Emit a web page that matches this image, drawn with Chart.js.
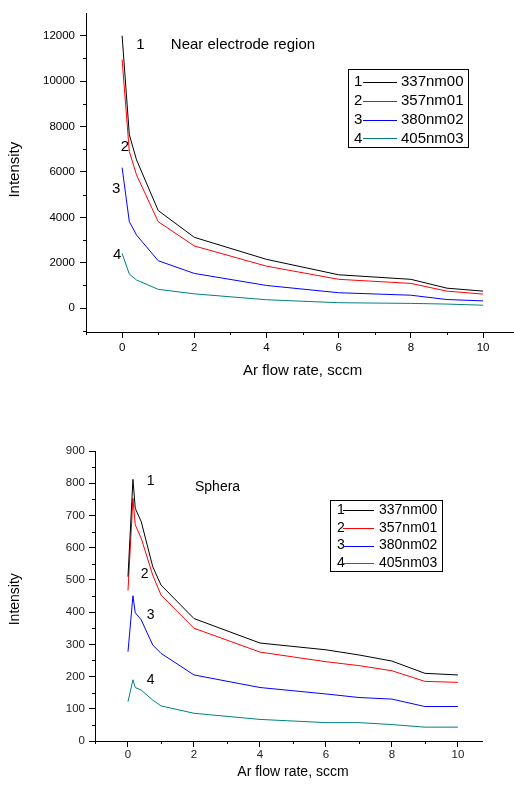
<!DOCTYPE html>
<html>
<head>
<meta charset="utf-8">
<script src="https://cdn.jsdelivr.net/npm/chart.js@4.4.0/dist/chart.umd.min.js"></script>
<style>
  body { margin: 0; background: #fff; }
  canvas { display: block; }
</style>
</head>
<body>
<canvas id="topChart" width="514" height="393"></canvas>
<canvas id="botChart" width="514" height="393"></canvas>
<script>
// ---- data: upper plot (Near electrode region)
const xTop = [0, 0.2, 0.4, 1, 2, 4, 6, 8, 9, 10];
const top337 = [12000, 7640, 6530, 4300, 3120, 2150, 1470, 1270, 880, 750];
const top357 = [10950, 6900, 5870, 3810, 2740, 1850, 1270, 1090, 750, 620];
const top380 = [6190, 3810, 3220, 2090, 1530, 1000, 680, 570, 380, 320];
const top405 = [2410, 1500, 1240, 830, 630, 370, 240, 210, 180, 130];
const topYTicks = [0, 2000, 4000, 6000, 8000, 10000, 12000];

// ---- data: lower plot (Sphera)
const xBot = [0, 0.15, 0.22, 0.4, 0.75, 1, 2, 4, 6, 7, 8, 9, 10];
const bot337 = [510, 812, 722, 681, 541, 484, 380, 304, 283, 267, 248, 210, 205];
const bot357 = [467, 753, 671, 629, 515, 453, 350, 276, 246, 234, 218, 185, 182];
const bot380 = [277, 451, 398, 376, 298, 272, 205, 166, 146, 135, 130, 107, 107];
const bot405 = [122, 190, 166, 158, 127, 109, 86, 67, 57, 57, 51, 43, 43];
const botYTicks = [0, 100, 200, 300, 400, 500, 600, 700, 800, 900];

const xTicks = [0, 2, 4, 6, 8, 10];
const seriesNames = ['337nm00', '357nm01', '380nm02', '405nm03'];
const colors = ['#000000', '#ff0000', '#0000ff', '#008080'];

Chart.defaults.font.family = '"Liberation Sans", Arial, sans-serif';
Chart.defaults.color = '#000';

// minor ticks, curve numbers, axis titles and the boxed legend
const extras = {
  id: 'extras',
  afterDraw(chart, args, o) {
    const { ctx, chartArea: a, scales: { x, y } } = chart;
    ctx.save();
    ctx.strokeStyle = '#000';
    ctx.lineWidth = 1;
    ctx.beginPath();
    o.minorX.forEach(v => {
      const px = Math.round(x.getPixelForValue(v)) + 0.5;
      ctx.moveTo(px, a.bottom); ctx.lineTo(px, a.bottom + 3);
    });
    o.minorY.forEach(v => {
      const py = Math.round(y.getPixelForValue(v)) + 0.5;
      ctx.moveTo(a.left, py); ctx.lineTo(a.left - 3, py);
    });
    ctx.stroke();

    ctx.fillStyle = '#000';
    ctx.font = o.noteFont;
    ctx.textAlign = 'left';
    ctx.textBaseline = 'alphabetic';
    o.notes.forEach(n => ctx.fillText(n.text, x.getPixelForValue(n.x), y.getPixelForValue(n.y)));

    // axis titles
    ctx.font = o.titleFont;
    ctx.textAlign = 'center';
    ctx.textBaseline = 'middle';
    ctx.fillText(o.xTitle, x.getPixelForValue(5), a.bottom + o.xTitleGap);
    ctx.save();
    ctx.translate(o.yTitleX, y.getPixelForValue(o.yTitleAt));
    ctx.rotate(-Math.PI / 2);
    ctx.fillText(o.yTitle, 0, 0);
    ctx.restore();

    // legend box
    const L = o.legend;
    ctx.strokeRect(L.left + 0.5, L.top + 0.5, L.width, L.height);
    ctx.font = L.font;
    ctx.textAlign = 'left';
    chart.data.datasets.forEach((ds, i) => {
      const cy = L.top + L.first + L.row * i;
      ctx.fillStyle = '#000';
      ctx.fillText(String(i + 1), L.left + L.numX, cy);
      ctx.fillText(ds.label, L.left + L.textX, cy);
      ctx.strokeStyle = ds.borderColor;
      ctx.beginPath();
      ctx.moveTo(L.left + L.line1, Math.round(cy) + 0.5);
      ctx.lineTo(L.left + L.line2, Math.round(cy) + 0.5);
      ctx.stroke();
    });
    ctx.restore();
  }
};

function makeChart(id, xs, series, cfg) {
  return new Chart(document.getElementById(id), {
    type: 'line',
    data: {
      datasets: series.map((s, i) => ({
        label: seriesNames[i],
        data: xs.map((x, j) => ({ x: x, y: s[j] })),
        borderColor: colors[i],
        borderWidth: 1,
        pointRadius: 0,
        tension: 0,
        fill: false
      }))
    },
    options: {
      responsive: false,
      animation: false,
      events: [],
      layout: { padding: cfg.padding },
      plugins: { legend: { display: false }, tooltip: { enabled: false }, extras: cfg.extras },
      scales: {
        x: {
          type: 'linear',
          min: -1,
          max: cfg.xMax,
          afterFit: s => { s.height = cfg.xHeight; },
          afterBuildTicks: s => { s.ticks = xTicks.map(v => ({ value: v })); },
          grid: { drawOnChartArea: false, drawTicks: true, tickLength: 6, color: '#000' },
          border: { color: '#000', width: 1 },
          ticks: { font: { size: cfg.tickSize }, padding: cfg.xPad, maxRotation: 0, color: cfg.tickColor,
            callback: v => String(v) }
        },
        y: {
          type: 'linear',
          min: cfg.yMin,
          max: cfg.yMax,
          afterFit: s => { s.width = cfg.yWidth; },
          afterBuildTicks: s => { s.ticks = cfg.yTicks.map(v => ({ value: v })); },
          grid: { drawOnChartArea: false, drawTicks: true, tickLength: 6, color: '#000' },
          border: { color: '#000', width: 1 },
          ticks: { font: { size: cfg.tickSize }, padding: cfg.yPad, color: cfg.tickColor,
            callback: v => String(v) }
        }
      }
    },
    plugins: [extras]
  });
}

makeChart('topChart', xTop, [top337, top357, top380, top405], {
  padding: { top: 13, right: 1, left: 0, bottom: 0 },
  xMax: 10.83, yMin: -1050, yMax: 13000,
  xHeight: 61, yWidth: 86,
  yTicks: topYTicks, tickSize: 11.5, xPad: 3, yPad: 5, tickColor: '#000',
  extras: {
    minorX: [-1, 1, 3, 5, 7, 9],
    minorY: [-1000, 1000, 3000, 5000, 7000, 9000, 11000],
    noteFont: '15px "Liberation Sans", Arial, sans-serif',
    notes: [
      { text: '1', x: 0.39, y: 11430 },
      { text: 'Near electrode region', x: 1.35, y: 11430 },
      { text: '2', x: -0.04, y: 6930 },
      { text: '3', x: -0.28, y: 5080 },
      { text: '4', x: -0.25, y: 2160 }
    ],
    titleFont: '15px "Liberation Sans", Arial, sans-serif',
    xTitle: 'Ar flow rate, sccm', xTitleGap: 39,
    yTitle: 'Intensity', yTitleX: 15, yTitleAt: 6100,
    legend: { left: 348, top: 69, width: 120, height: 78, first: 12.7, row: 18.9,
      numX: 6, line1: 15, line2: 49, textX: 53, font: '15px "Liberation Sans", Arial, sans-serif' }
  }
});

makeChart('botChart', xBot, [bot337, bot357, bot380, bot405], {
  padding: { top: 58, right: 32, left: 0, bottom: 0 },
  xMax: 10.73, yMin: 0, yMax: 900,
  xHeight: 45, yWidth: 95,
  yTicks: botYTicks, tickSize: 11.5, xPad: 1, yPad: 4, tickColor: '#222',
  extras: {
    minorX: [-1, 1, 3, 5, 7, 9],
    minorY: [50, 150, 250, 350, 450, 550, 650, 750, 850],
    noteFont: '14px "Liberation Sans", Arial, sans-serif',
    notes: [
      { text: '1', x: 0.57, y: 795 },
      { text: 'Sphera', x: 2.03, y: 776 },
      { text: '2', x: 0.39, y: 506 },
      { text: '3', x: 0.57, y: 378 },
      { text: '4', x: 0.57, y: 177 }
    ],
    titleFont: '14px "Liberation Sans", Arial, sans-serif',
    xTitle: 'Ar flow rate, sccm', xTitleGap: 31,
    yTitle: 'Intensity', yTitleX: 15, yTitleAt: 440,
    legend: { left: 330, top: 107, width: 112, height: 71, first: 10, row: 17.8,
      numX: 7, line1: 13, line2: 44, textX: 49, font: '14px "Liberation Sans", Arial, sans-serif' }
  }
});
</script>
</body>
</html>
